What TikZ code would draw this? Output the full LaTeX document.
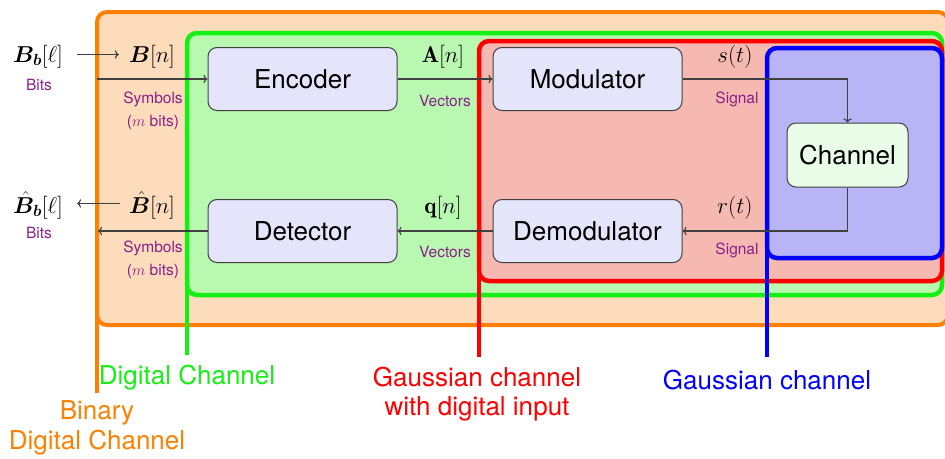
\RequirePackage{fix-cm}
\documentclass[tikz,border=0pt]{standalone}
\usepackage{amsmath,amssymb,bm}
\usepackage{fontspec}
\newfontfamily\hv{TeX Gyre Heros}
\usetikzlibrary{arrows.meta}
\definecolor{orA}{RGB}{255,128,0}
\definecolor{orF}{RGB}{253,220,188}
\definecolor{grA}{RGB}{20,240,20}
\definecolor{grF}{RGB}{185,248,177}
\definecolor{rdA}{RGB}{255,0,0}
\definecolor{rdF}{RGB}{245,185,177}
\definecolor{blA}{RGB}{0,0,255}
\definecolor{blF}{RGB}{184,180,245}
\definecolor{pur}{RGB}{140,30,140}
\definecolor{blkF}{RGB}{228,228,250}
\definecolor{chF}{RGB}{232,252,232}
\definecolor{ln}{RGB}{64,64,64}
\tikzset{
  region/.style={line width=4.5pt, rounded corners=10pt},
  blk/.style={draw=ln, line width=1pt, rounded corners=9pt, fill=blkF,
    minimum width=189pt, minimum height=63pt, inner sep=0pt,
    font=\hv\fontsize{26}{30}\selectfont},
  arr/.style={draw=ln, line width=1.1pt, ->},
  mth/.style={font=\fontsize{23}{27}\selectfont, inner sep=0pt, anchor=base},
  lab/.style={text=pur, font=\hv\fontsize{15.5}{23}\selectfont, inner sep=0pt, align=center},
  big/.style={font=\hv\fontsize{26}{29.5}\selectfont, align=center, inner sep=0pt}
}
\begin{document}
\begin{tikzpicture}[x=1pt,y=-1pt]
\useasboundingbox (0,0) rectangle (945,458);
% regions
\path[region, line width=4pt, draw=orA, fill=orF] (97,12) rectangle (948,325);
\draw[orA, line width=4pt] (97,300) -- (97,393);
\path[region, draw=grA, fill=grF] (187,33) rectangle (942,295);
\draw[grA, line width=4.5pt] (187,280) -- (187,355);
\path[region, draw=rdA, fill=rdF] (479,41) rectangle (942,281);
\draw[rdA, line width=4.5pt] (479,260) -- (479,357);
\path[region, draw=blA, fill=blF] (767,48) rectangle (942,258);
\draw[blA, line width=4.5pt] (767,240) -- (767,357);
% blocks
\node[blk] (enc) at (302.5,79) {Encoder};
\node[blk] (mod) at (587.5,79) {Modulator};
\node[blk] (det) at (302.5,231) {Detector};
\node[blk] (dem) at (587.5,231) {Demodulator};
\node[blk, fill=chF, minimum width=121pt, minimum height=64pt] (ch) at (847.5,155) {Channel};
\coordinate (inL) at (97,79);
\coordinate (outL) at (98,231);
\draw[arr] (inL) -- (enc);
\draw[arr] (enc) -- (mod);
\draw[arr] (mod) -| (ch);
\draw[arr] (ch) |- (dem);
\draw[arr] (dem) -- (det);
\draw[arr] (det) -- (outL);
% math labels
\node[mth] (bb) at (38,62.5) {$\boldsymbol{B_b}[\ell]$};
\node[mth] (bn) at (152,62.5) {$\boldsymbol{B}[n]$};
\node[mth] (hbb) at (38,213.5) {$\hat{\boldsymbol{B}}_{\boldsymbol{b}}[\ell]$};
\node[mth] (hbn) at (152,213.5) {$\hat{\boldsymbol{B}}[n]$};
\draw[arr] ([xshift=14pt,yshift=8pt]bb.base east) -- ([xshift=-10pt,yshift=8pt]bn.base west);
\draw[arr] ([xshift=-9pt,yshift=10pt]hbn.base west) -- ([xshift=14pt,yshift=10pt]hbb.base east);
\node[mth] (An) at (443,62.5) {$\mathbf{A}[n]$};
\node[mth] (qn) at (443,213.5) {$\mathbf{q}[n]$};
\node[mth] (st) at (735,62.5) {$s(t)$};
\node[mth] (rt) at (735,213.5) {$r(t)$};
% purple labels
\node[lab] (bits1) at (39,85) {Bits};
\node[lab] (bits2) at (39,233) {Bits};
\node[lab] (sym1) at (153,110.5) {Symbols\\($m$ bits)};
\node[lab] (sym2) at (153,260) {Symbols\\($m$ bits)};
\node[lab] (vec1) at (445,101) {Vectors};
\node[lab] (vec2) at (445,252) {Vectors};
\node[lab] (sig1) at (737,99) {Signal};
\node[lab] (sig2) at (737,250) {Signal};
% region names
\node[big, text=grA] (ndc) at (187,378) {Digital Channel};
\node[big, text=orA] (nbdc) at (97,428) {Binary\\Digital Channel};
\node[big, text=rdA] (ngdi) at (477,394) {Gaussian channel\\with digital input};
\node[big, text=blA] (ngc) at (767,380) {Gaussian channel};
\end{tikzpicture}
\end{document}
